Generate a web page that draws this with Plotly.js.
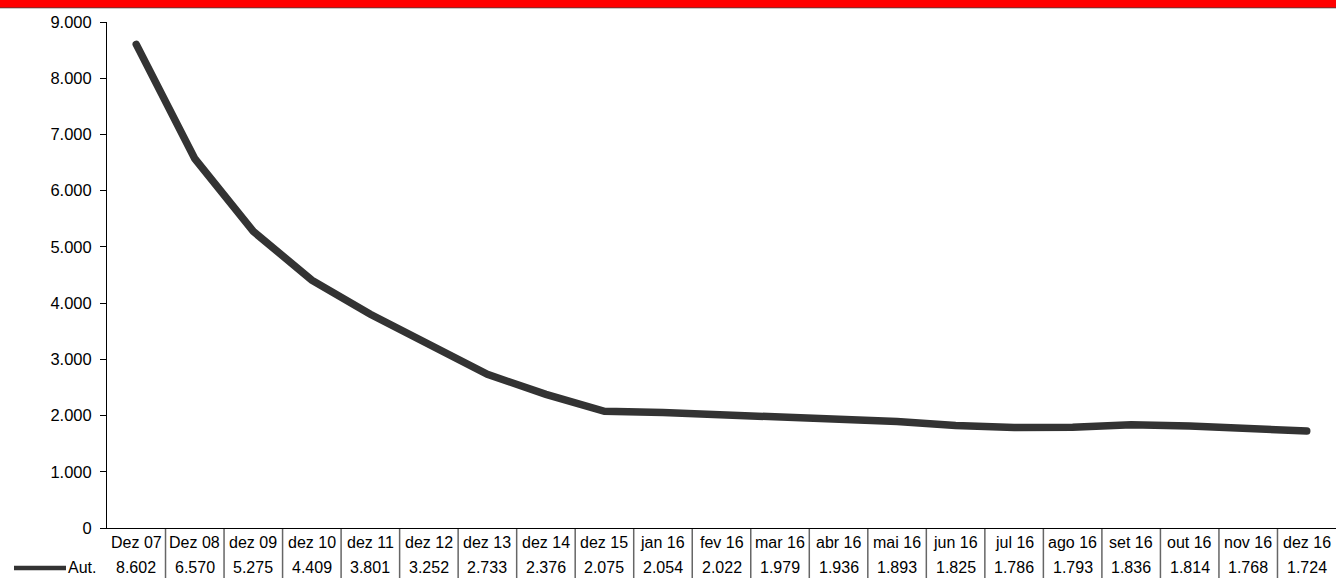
<!DOCTYPE html>
<html>
<head>
<meta charset="utf-8">
<script src="https://cdn.plot.ly/plotly-3.0.1.min.js"></script>
<style>
html,body{margin:0;padding:0;background:#fff;}
#chart{width:1336px;height:578px;}
#chart .scatterlayer path.js-line{stroke-linecap:round;stroke-linejoin:miter;}
</style>
</head>
<body>
<div id="chart"></div>
<script>
const categories = ["Dez 07","Dez 08","dez 09","dez 10","dez 11","dez 12","dez 13","dez 14","dez 15","jan 16","fev 16","mar 16","abr 16","mai 16","jun 16","jul 16","ago 16","set 16","out 16","nov 16","dez 16"];
const autValues = [8602,6570,5275,4409,3801,3252,2733,2376,2075,2054,2022,1979,1936,1893,1825,1786,1793,1836,1814,1768,1724];
const seriesName = "Aut.";

const W = 1336, H = 578;
const mL = 107, mR = 0, mT = 22, mB = 50;
const plotW = W - mL - mR, plotH = H - mT - mB;
const pyPaper = px => 1 - (px - mT) / plotH;
const pxPaper = px => (px - mL) / plotW;

function fmt(v){ return v.toString().replace(/\B(?=(\d{3})+(?!\d))/g, "."); }

const FAM = "Liberation Sans, Arial, sans-serif";
const font = {family: FAM, size: 16, color: "#000"};

const annotations = [];
const shapes = [];
categories.forEach((c, i) => {
  annotations.push({x: c, y: pyPaper(542), xref: "x", yref: "paper", text: c, showarrow: false, font: font, xanchor: "center", yanchor: "middle"});
  annotations.push({x: c, y: pyPaper(567.5), xref: "x", yref: "paper", text: fmt(autValues[i]), showarrow: false, font: font, xanchor: "center", yanchor: "middle"});
  if (i < categories.length - 1) {
    shapes.push({type: "line", xref: "x", yref: "paper", x0: i + 0.5, x1: i + 0.5, y0: pyPaper(529), y1: pyPaper(579), line: {color: "#666", width: 1.5}});
  }
});
// legend key in table
shapes.push({type: "line", xref: "paper", yref: "paper", x0: pxPaper(14), x1: pxPaper(66), y0: pyPaper(568), y1: pyPaper(568), line: {color: "#333", width: 4.5}});
annotations.push({x: pxPaper(66), y: pyPaper(567.5), xref: "paper", yref: "paper", text: seriesName, showarrow: false, font: font, xanchor: "left", yanchor: "middle"});
// red band at top
shapes.push({type: "rect", xref: "paper", yref: "paper", x0: pxPaper(0), x1: pxPaper(W), y0: pyPaper(0), y1: pyPaper(7), fillcolor: "#ff0000", line: {width: 0}, layer: "above"});
shapes.push({type: "line", xref: "paper", yref: "paper", x0: pxPaper(0), x1: pxPaper(W), y0: pyPaper(7.5), y1: pyPaper(7.5), line: {color: "#a02020", width: 1}});
shapes.push({type: "line", xref: "paper", yref: "paper", x0: pxPaper(0), x1: pxPaper(W), y0: pyPaper(8.5), y1: pyPaper(8.5), line: {color: "#c8c8c8", width: 1}});

const trace = {
  x: categories, y: autValues, type: "scatter", mode: "lines", name: seriesName,
  line: {color: "#333333", width: 7.5}, hoverinfo: "skip"
};

const layout = {
  width: W, height: H,
  margin: {l: mL, r: mR, t: mT, b: mB, pad: 0},
  paper_bgcolor: "#fff", plot_bgcolor: "#fff",
  separators: ",.",
  showlegend: false,
  font: font,
  xaxis: {type: "category", range: [-0.5, categories.length - 0.5], showticklabels: false, showgrid: false, zeroline: false, showline: true, linecolor: "#000", linewidth: 1, ticks: "", fixedrange: true},
  yaxis: {range: [0, 9000], dtick: 1000, tick0: 0, tickformat: ",d", showgrid: false, zeroline: false, showline: true, linecolor: "#000", linewidth: 1, ticks: "outside", ticklen: 6, tickcolor: "#000", ticklabelstandoff: 5, tickfont: {family: FAM, size: 16.5, color: "#000"}, fixedrange: true},
  shapes: shapes,
  annotations: annotations
};

Plotly.newPlot("chart", [trace], layout, {displayModeBar: false, staticPlot: true});
</script>
</body>
</html>
